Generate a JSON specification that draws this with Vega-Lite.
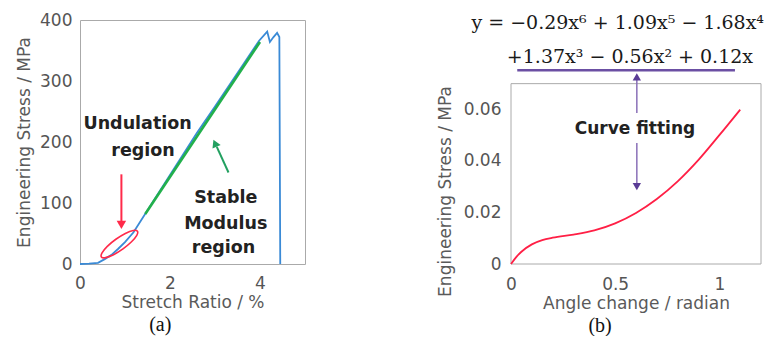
{
  "$schema": "https://vega.github.io/schema/vega-lite/v6.json",
  "background": "white",
  "padding": {"left": 15, "top": 10, "right": 0, "bottom": 0},
  "spacing": 130,
  "config": {
    "view": {"stroke": "#aaaaaa", "strokeWidth": 1},
    "axis": {"domain": false, "ticks": false, "tickSize": 0, "grid": false, "labelFlush": false, "labelOverlap": false,
      "labelFont": "DejaVu Sans", "labelFontSize": 17, "labelColor": "#555555",
      "titleFont": "DejaVu Sans", "titleFontSize": 17, "titleColor": "#5a5a5a", "titleFontWeight": "normal"},
    "title": {"font": "Liberation Serif", "fontSize": 20, "fontWeight": "normal", "color": "#111111"}
  },
  "datasets": {
    "blue": [
      {"x": 0, "y": 0}, {"x": 0.2, "y": 0.5}, {"x": 0.4, "y": 2}, {"x": 0.55, "y": 8}, {"x": 0.7, "y": 15},
      {"x": 0.85, "y": 25}, {"x": 1.0, "y": 36}, {"x": 1.19, "y": 52}, {"x": 1.5, "y": 88}, {"x": 2.0, "y": 146},
      {"x": 2.6, "y": 215}, {"x": 3.0, "y": 258}, {"x": 3.5, "y": 313}, {"x": 3.98, "y": 366}, {"x": 4.16, "y": 381},
      {"x": 4.22, "y": 364}, {"x": 4.3, "y": 372}, {"x": 4.38, "y": 379}, {"x": 4.43, "y": 372}, {"x": 4.45, "y": 0}
    ],
    "green": [{"x": 1.45, "y": 82}, {"x": 4.0, "y": 364}],
    "ellipse": [
      {"i": 0, "x": 1.276, "y": 53.8}, {"i": 1, "x": 1.183, "y": 55.0}, {"i": 2, "x": 1.007, "y": 50.1},
      {"i": 3, "x": 0.797, "y": 40.6}, {"i": 4, "x": 0.607, "y": 29.0}, {"i": 5, "x": 0.490, "y": 18.4},
      {"i": 6, "x": 0.476, "y": 11.6}, {"i": 7, "x": 0.569, "y": 10.4}, {"i": 8, "x": 0.745, "y": 15.3},
      {"i": 9, "x": 0.955, "y": 24.8}, {"i": 10, "x": 1.145, "y": 36.4}, {"i": 11, "x": 1.262, "y": 47.0}
    ],
    "redArrow": [{"x": 0.92, "y": 147, "y2": 70}],
    "redHead": [{"x": 0.92, "y": 64}],
    "greenArrow": [{"x": 3.30, "y": 150, "x2": 3.04, "y2": 192}],
    "greenHead": [{"x": 3.0, "y": 198}],
    "textA": [
      {"x": 1.28, "y": 229, "label": "Undulation"}, {"x": 1.40, "y": 185, "label": "region"},
      {"x": 3.24, "y": 108, "label": "Stable"}, {"x": 3.24, "y": 65, "label": "Modulus"}, {"x": 3.19, "y": 26, "label": "region"}
    ],
    "frameB": [{"x": 0, "x2": 1.2, "y": 0, "y2": 0.07}],
    "fit": [
      {"x": 0, "y": 0}, {"x": 0.025, "y": 0.00267}, {"x": 0.05, "y": 0.00476}, {"x": 0.1, "y": 0.00761},
      {"x": 0.15, "y": 0.00925}, {"x": 0.2, "y": 0.0102}, {"x": 0.3, "y": 0.01142}, {"x": 0.4, "y": 0.01305},
      {"x": 0.5, "y": 0.01578}, {"x": 0.6, "y": 0.01982}, {"x": 0.7, "y": 0.02522}, {"x": 0.8, "y": 0.03206},
      {"x": 0.9, "y": 0.0404}, {"x": 1.0, "y": 0.05}, {"x": 1.1, "y": 0.0599}
    ],
    "hbar": [{"x": 0.03, "x2": 1.075, "y": 0.0752}],
    "vbar": [{"x": 0.604, "y": 0.0715, "y2": 0.0586}, {"x": 0.604, "y": 0.0470, "y2": 0.0310}],
    "upHead": [{"x": 0.604, "y": 0.0726}],
    "downHead": [{"x": 0.604, "y": 0.0300}],
    "textB": [{"x": 0.595, "y": 0.0524, "label": "Curve fitting"}],
    "eq": [
      {"x": -0.19, "y": 0.0935, "label": "y = −0.29x⁶ + 1.09x⁵ − 1.68x⁴"},
      {"x": -0.02, "y": 0.0803, "label": "+1.37x³ − 0.56x² + 0.12x"}
    ]
  },
  "hconcat": [
    {
      "width": 225, "height": 244,
      "title": {"text": "(a)", "orient": "bottom", "frame": "bounds", "anchor": "middle", "offset": 5},
      "encoding": {
        "x": {"field": "x", "type": "quantitative", "scale": {"domain": [0, 5], "nice": false},
          "axis": {"title": "Stretch Ratio / %", "values": [0, 2, 4], "labelPadding": 11, "titlePadding": 3}},
        "y": {"field": "y", "type": "quantitative", "scale": {"domain": [0, 400], "nice": false},
          "axis": {"title": "Engineering Stress / MPa", "values": [0, 100, 200, 300, 400], "labelPadding": 8, "titlePadding": 6}}
      },
      "layer": [
        {"data": {"name": "blue"}, "mark": {"type": "line", "color": "#3a8ad6", "strokeWidth": 1.8}},
        {"data": {"name": "green"}, "mark": {"type": "line", "color": "#22b04b", "strokeWidth": 2.6}},
        {"data": {"name": "ellipse"}, "mark": {"type": "line", "color": "#ff2a4a", "strokeWidth": 1.6, "interpolate": "cardinal-closed"},
          "encoding": {"order": {"field": "i", "type": "quantitative"}}},
        {"data": {"name": "redArrow"}, "mark": {"type": "rule", "color": "#ff2a4a", "strokeWidth": 2},
          "encoding": {"y2": {"field": "y2"}}},
        {"data": {"name": "redHead"}, "mark": {"type": "point", "shape": "triangle-down", "filled": true, "size": 90, "color": "#ff2a4a", "opacity": 1}},
        {"data": {"name": "greenArrow"}, "mark": {"type": "rule", "color": "#22a060", "strokeWidth": 2},
          "encoding": {"x2": {"field": "x2"}, "y2": {"field": "y2"}}},
        {"data": {"name": "greenHead"}, "mark": {"type": "point", "shape": "triangle-up", "filled": true, "size": 80, "angle": 336, "color": "#22a060", "opacity": 1}},
        {"data": {"name": "textA"}, "mark": {"type": "text", "font": "DejaVu Sans", "fontSize": 17.5, "fontWeight": "bold", "color": "#222222", "align": "center", "baseline": "middle"},
          "encoding": {"text": {"field": "label"}}}
      ]
    },
    {
      "width": 250, "height": 244,
      "view": {"stroke": null},
      "title": {"text": "(b)", "orient": "bottom", "frame": "bounds", "anchor": "middle", "offset": 5},
      "encoding": {
        "x": {"field": "x", "type": "quantitative", "scale": {"domain": [0, 1.2], "nice": false},
          "axis": {"title": "Angle change / radian", "values": [0, 0.5, 1], "format": "~g", "labelPadding": 12, "titlePadding": 3}},
        "y": {"field": "y", "type": "quantitative", "scale": {"domain": [0, 0.0947], "nice": false},
          "axis": {"title": "Engineering Stress / MPa", "values": [0, 0.02, 0.04, 0.06], "format": "~g", "labelPadding": 10, "titlePadding": 9, "titleY": 171}}
      },
      "layer": [
        {"data": {"name": "frameB"}, "mark": {"type": "rect", "fill": "white", "fillOpacity": 0, "stroke": "#aaaaaa", "strokeWidth": 1},
          "encoding": {"x2": {"field": "x2"}, "y2": {"field": "y2"}}},
        {"data": {"name": "fit"}, "mark": {"type": "line", "color": "#ff1f45", "strokeWidth": 1.8, "interpolate": "monotone"}},
        {"data": {"name": "hbar"}, "mark": {"type": "rule", "color": "#6b4fa3", "strokeWidth": 2.5},
          "encoding": {"x2": {"field": "x2"}}},
        {"data": {"name": "vbar"}, "mark": {"type": "rule", "color": "#8a70b8", "strokeWidth": 1.5},
          "encoding": {"y2": {"field": "y2"}}},
        {"data": {"name": "upHead"}, "mark": {"type": "point", "shape": "triangle-up", "filled": true, "size": 70, "color": "#5a3c96", "opacity": 1}},
        {"data": {"name": "downHead"}, "mark": {"type": "point", "shape": "triangle-down", "filled": true, "size": 70, "color": "#5a3c96", "opacity": 1}},
        {"data": {"name": "textB"}, "mark": {"type": "text", "font": "DejaVu Sans", "fontSize": 17, "fontWeight": "bold", "color": "#222222", "align": "center", "baseline": "middle"},
          "encoding": {"text": {"field": "label"}}},
        {"data": {"name": "eq"}, "mark": {"type": "text", "font": "DejaVu Serif", "fontSize": 19, "color": "#1a1a1a", "align": "left", "baseline": "middle"},
          "encoding": {"text": {"field": "label"}}}
      ]
    }
  ]
}
